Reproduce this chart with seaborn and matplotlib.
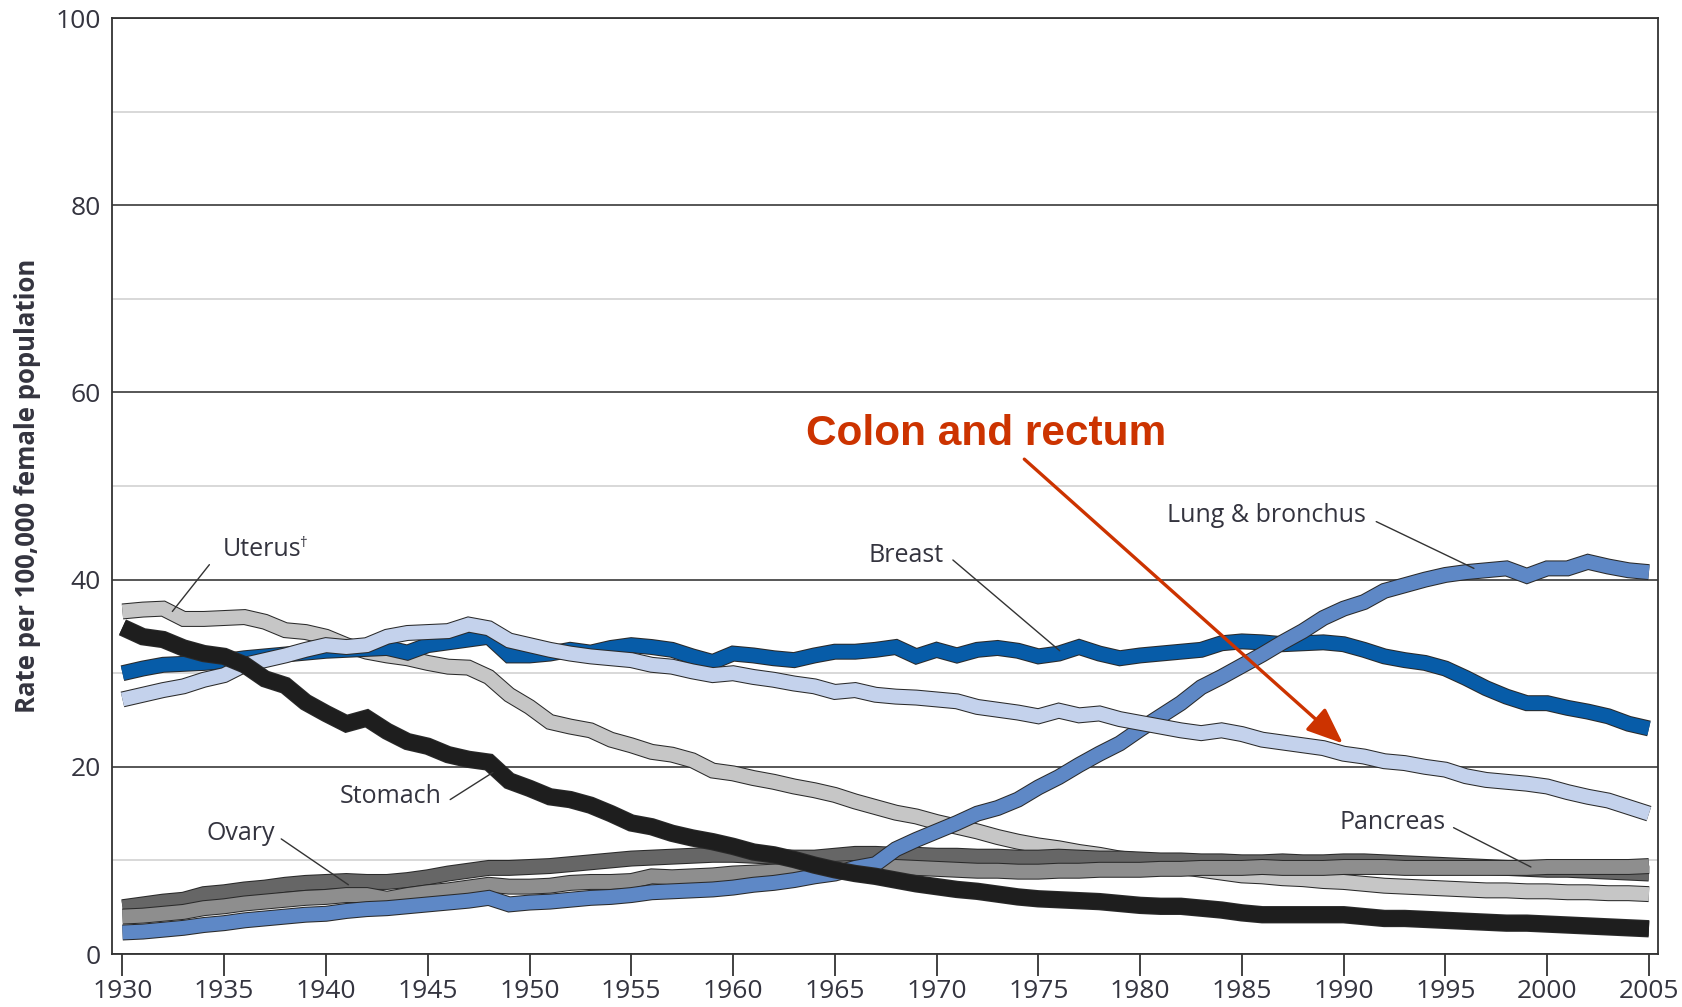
import numpy as np
import pandas as pd
import matplotlib
matplotlib.use("Agg")
import matplotlib.pyplot as plt
import matplotlib.patheffects as pe
import seaborn as sns

# ---- data (rate per 100,000 female population) ----
years = list(range(1930, 2006))

lung = [2.3, 2.4, 2.6, 2.8, 3.1, 3.3, 3.6, 3.8, 4.0, 4.2,
        4.3, 4.6, 4.8, 4.9, 5.1, 5.3, 5.5, 5.7, 6.0, 5.3,
        5.5, 5.6, 5.8, 6.0, 6.1, 6.3, 6.6, 6.7, 6.8, 6.9,
        7.1, 7.4, 7.6, 7.9, 8.3, 8.6, 9.2, 9.6, 11.2, 12.2,
        13.1, 14.0, 15.0, 15.6, 16.5, 17.8, 18.9, 20.2, 21.4, 22.5,
        24.0, 25.4, 26.8, 28.5, 29.6, 30.8, 32.0, 33.3, 34.5, 35.9,
        36.9, 37.6, 38.8, 39.4, 40.0, 40.5, 40.8, 41.0, 41.2, 40.4,
        41.2, 41.2, 41.9, 41.4, 41.0, 40.8]

breast = [30.0, 30.5, 30.9, 31.0, 31.1, 31.3, 31.6, 31.8, 32.0, 32.2,
          32.4, 32.5, 32.6, 32.7, 32.2, 33.0, 33.3, 33.6, 33.9, 31.9,
          31.9, 32.1, 32.5, 32.2, 32.7, 33.0, 32.8, 32.5, 31.8, 31.2,
          32.1, 31.9, 31.6, 31.4, 31.9, 32.3, 32.3, 32.5, 32.8, 31.8,
          32.5, 31.9, 32.5, 32.7, 32.4, 31.8, 32.1, 32.8, 32.1, 31.6,
          31.9, 32.1, 32.3, 32.5, 33.2, 33.4, 33.3, 33.1, 33.2, 33.3,
          33.1, 32.5, 31.8, 31.4, 31.1, 30.5, 29.5, 28.4, 27.5, 26.8,
          26.8, 26.3, 25.9, 25.4, 24.6, 24.1]

colon = [27.2, 27.7, 28.2, 28.6, 29.3, 29.8, 30.9, 31.4, 31.9, 32.5,
         33.0, 32.8, 33.0, 33.9, 34.3, 34.4, 34.5, 35.2, 34.8, 33.5,
         33.0, 32.5, 32.1, 31.8, 31.6, 31.4, 30.9, 30.7, 30.2, 29.8,
         30.0, 29.6, 29.3, 28.9, 28.6, 28.0, 28.2, 27.7, 27.5, 27.4,
         27.2, 27.0, 26.4, 26.1, 25.8, 25.4, 26.0, 25.5, 25.7, 25.1,
         24.7, 24.3, 23.9, 23.6, 23.9, 23.5, 22.9, 22.6, 22.3, 22.0,
         21.4, 21.1, 20.6, 20.4, 20.0, 19.7, 19.0, 18.6, 18.4, 18.2,
         17.9, 17.3, 16.8, 16.4, 15.7, 15.0]

uterus = [36.6, 36.8, 36.9, 35.8, 35.8, 35.9, 36.0, 35.5, 34.6, 34.4,
          33.9, 33.0, 32.3, 31.9, 31.6, 31.1, 30.7, 30.6, 29.6, 27.7,
          26.4, 24.8, 24.3, 23.9, 22.9, 22.3, 21.6, 21.3, 20.7, 19.6,
          19.3, 18.8, 18.4, 17.9, 17.5, 17.0, 16.3, 15.7, 15.1, 14.7,
          14.1, 13.6, 13.1, 12.5, 12.0, 11.6, 11.3, 10.9, 10.6, 10.2,
          10.0, 9.6, 9.3, 9.0, 8.7, 8.4, 8.3, 8.1, 8.0, 7.8,
          7.7, 7.5, 7.3, 7.2, 7.1, 7.0, 6.9, 6.8, 6.8, 6.7,
          6.7, 6.6, 6.6, 6.5, 6.5, 6.4]

stomach = [34.9, 33.9, 33.6, 32.7, 32.1, 31.8, 30.9, 29.4, 28.7, 26.9,
           25.7, 24.6, 25.2, 23.8, 22.7, 22.2, 21.3, 20.8, 20.5, 18.5,
           17.7, 16.8, 16.5, 15.9, 15.0, 14.0, 13.6, 12.9, 12.4, 12.0,
           11.5, 10.9, 10.6, 10.1, 9.5, 9.0, 8.6, 8.3, 7.9, 7.5,
           7.2, 6.9, 6.7, 6.4, 6.1, 5.9, 5.8, 5.7, 5.6, 5.4,
           5.2, 5.1, 5.1, 4.9, 4.7, 4.4, 4.2, 4.2, 4.2, 4.2,
           4.2, 4.0, 3.8, 3.8, 3.7, 3.6, 3.5, 3.4, 3.3, 3.3,
           3.2, 3.1, 3.0, 2.9, 2.8, 2.7]

ovary = [5.0, 5.3, 5.6, 5.8, 6.4, 6.6, 6.9, 7.1, 7.4, 7.6,
         7.7, 7.8, 7.7, 7.7, 7.9, 8.2, 8.6, 8.9, 9.2, 9.2,
         9.3, 9.4, 9.6, 9.8, 10.0, 10.2, 10.3, 10.4, 10.5, 10.6,
         10.6, 10.5, 10.4, 10.3, 10.3, 10.5, 10.7, 10.7, 10.6, 10.6,
         10.5, 10.5, 10.4, 10.4, 10.3, 10.3, 10.4, 10.3, 10.2, 10.2,
         10.1, 10.0, 10.0, 9.9, 9.9, 9.8, 9.8, 9.9, 9.8, 9.8,
         9.9, 9.9, 9.8, 9.7, 9.6, 9.5, 9.4, 9.3, 9.2, 9.1,
         9.0, 9.0, 8.9, 8.8, 8.7, 8.6]

pancreas = [4.0, 4.1, 4.3, 4.5, 4.9, 5.1, 5.4, 5.6, 5.8, 6.0,
            6.1, 6.3, 6.3, 5.9, 6.3, 6.6, 6.8, 7.1, 7.4, 7.2,
            7.2, 7.3, 7.6, 7.7, 7.7, 7.8, 8.3, 8.2, 8.3, 8.4,
            8.6, 8.7, 8.8, 8.9, 9.0, 9.1, 9.2, 9.2, 9.3, 9.2,
            9.1, 9.0, 8.9, 8.9, 8.8, 8.8, 8.9, 8.9, 9.0, 9.0,
            9.0, 9.1, 9.1, 9.2, 9.2, 9.2, 9.3, 9.2, 9.2, 9.2,
            9.3, 9.3, 9.3, 9.2, 9.2, 9.2, 9.2, 9.2, 9.2, 9.2,
            9.3, 9.3, 9.3, 9.3, 9.3, 9.4]

x_ticks = list(range(1930, 2006, 5))
y_ticks = [0, 20, 40, 60, 80, 100]

# ---- style ----
sns.set_theme(style="white")
plt.rcParams["font.family"] = ["Open Sans", "DejaVu Sans"]
TXT = "#34343f"

fig = plt.figure(figsize=(16.82, 10.07), dpi=100)
ax = fig.add_axes([0.0664, 0.0526, 0.9194, 0.9295])

# (data, colour, width, zorder) - drawn bottom to top
series = [
    (uterus, "#c6c6c6", 10, 2),
    (breast, "#075ca8", 10, 3),
    (ovary, "#666666", 10, 4),
    (pancreas, "#8e8e8e", 10, 5),
    (lung, "#5e88c6", 10, 6),
    (colon, "#c4d2ec", 10, 7),
    (stomach, "#1e1e1e", 11, 8),
]
for vals, col, lw, z in series:
    sns.lineplot(x=years, y=vals, ax=ax, color=col, linewidth=lw, zorder=z)
    ln = ax.lines[-1]
    ln.set_solid_capstyle("butt")
    ln.set_solid_joinstyle("miter")
    ln.set_path_effects([pe.Stroke(linewidth=lw + 1.5, foreground="#2a2a2a"),
                         pe.Normal()])

# ---- axes ----
ax.set_xlim(1929.47, 2005.45)
ax.set_ylim(0, 100)
ax.set_xticks(x_ticks)
ax.set_yticks(y_ticks)
ax.set_yticks(range(10, 100, 20), minor=True)
ax.grid(which="major", axis="y", color="#3a3a3a", lw=1.2, zorder=0)
ax.grid(which="minor", axis="y", color="#d2d2d2", lw=1.2, zorder=0)
ax.set_axisbelow(True)
for s in ax.spines.values():
    s.set_color("#333333")
    s.set_linewidth(1.3)
ax.tick_params(axis="x", direction="out", length=16, width=1.3, color="#333333",
               pad=2, labelsize=19, labelcolor=TXT, bottom=True)
ax.tick_params(axis="y", which="both", length=0, pad=8, labelsize=19, labelcolor=TXT)
ax.set_xlabel("")
ax.set_ylabel("Rate per 100,000 female population", fontsize=18.5,
              fontweight="bold", color=TXT)
ax.yaxis.set_label_coords(-0.046, 0.5)

# ---- labels with leader lines ----
labels = [
    ("Uterus", (1936.85, 43.2), (1934.27, 41.6), (1932.45, 36.6)),
    ("Breast", (1968.5, 42.6), (1970.8, 42.1), (1976.05, 32.4)),
    ("Lung & bronchus", (1986.2, 46.8), (1991.6, 46.2), (1996.4, 41.2)),
    ("Stomach", (1943.2, 16.8), (1946.1, 16.5), (1948.2, 19.4)),
    ("Ovary", (1935.8, 12.9), (1937.8, 12.3), (1941.1, 7.4)),
    ("Pancreas", (1992.4, 14.0), (1995.4, 13.5), (1999.2, 9.3)),
]
for name, tpos, p0, p1 in labels:
    ax.text(tpos[0], tpos[1], name, fontsize=18, color=TXT,
            ha="center", va="center", zorder=10)
    ax.annotate("", xy=p1, xytext=p0,
                arrowprops=dict(arrowstyle="-", color="#333333", lw=1.0,
                                shrinkA=0, shrinkB=0), zorder=10)
ax.text(1938.85, 43.9, "\u2020", fontsize=11, color=TXT, ha="center",
        va="center", zorder=10)

# ---- highlight ----
ax.text(1972.41, 55.6, "Colon and rectum", fontsize=30.5, fontweight="bold",
        family=["Liberation Sans", "DejaVu Sans"], color="#cc3300",
        ha="center", va="center", zorder=11)
ax.annotate("", xy=(1989.96, 22.5), xytext=(1974.31, 52.87),
            arrowprops=dict(arrowstyle="-|>,head_length=1.6,head_width=0.65",
                            mutation_scale=14, color="#cc3300", lw=2.4,
                            shrinkA=0, shrinkB=0), zorder=11)

fig.savefig("out.png", dpi=100)
